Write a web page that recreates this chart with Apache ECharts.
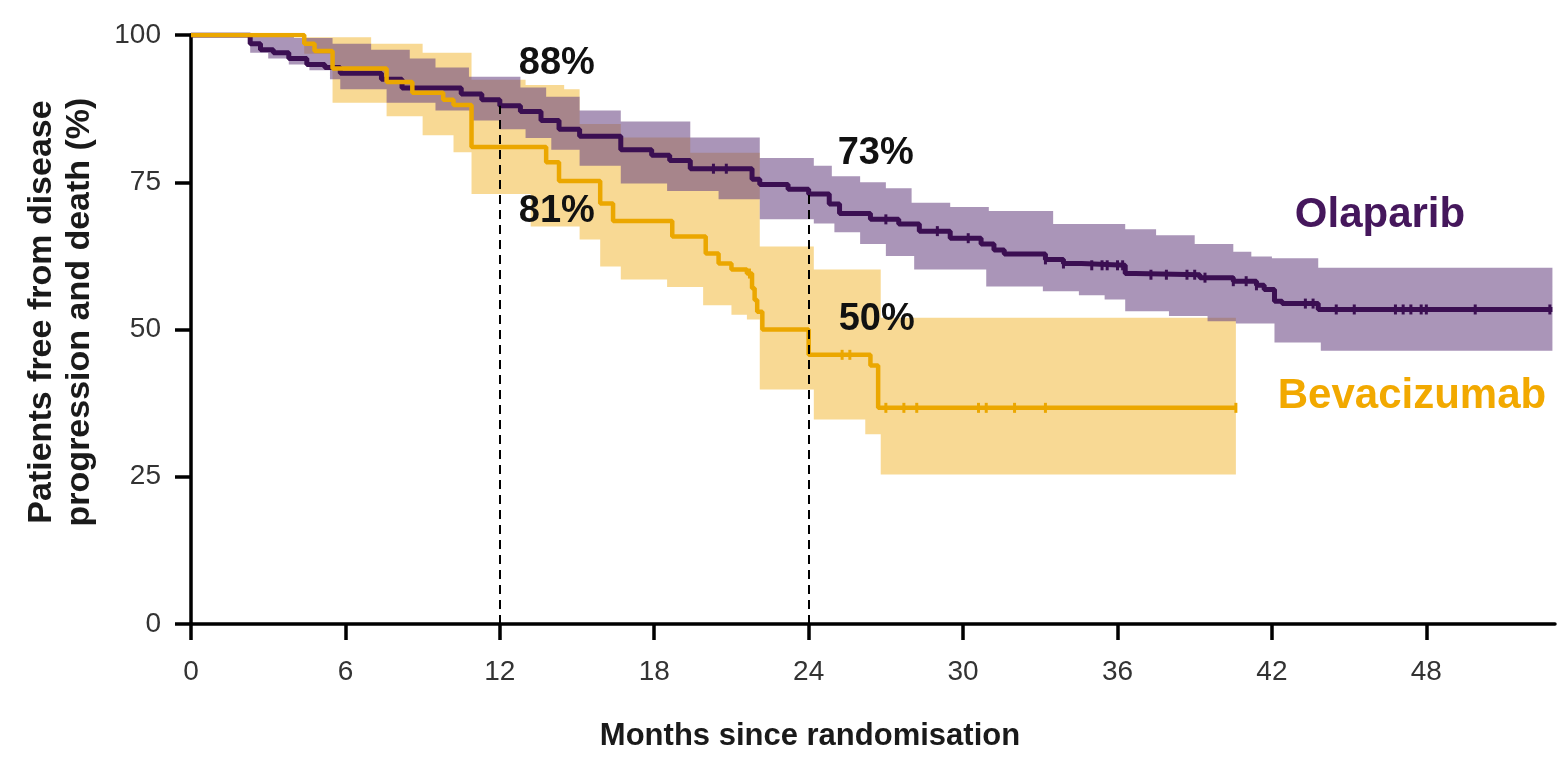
<!DOCTYPE html>
<html>
<head>
<meta charset="utf-8">
<script src="https://cdn.jsdelivr.net/npm/echarts@6/dist/echarts.min.js"></script>
<style>
  html, body { margin: 0; padding: 0; background: #ffffff; }
  #chart { width: 1560px; height: 769px; }
</style>
</head>
<body>
<div id="chart"></div>
<script>
// Axis ticks
const monthTicks = [0, 6, 12, 18, 24, 30, 36, 42, 48];
const percentTicks = [0, 25, 50, 75, 100];

// Kaplan-Meier estimates: [month, % free from progression/death], value holds until next step
const olaparib = [
  [0, 100], [2.3, 98.5], [2.7, 97.5], [3.2, 97], [3.8, 96], [4.5, 95], [5.2, 94.5], [5.8, 93.5],
  [7.4, 92.5], [8.2, 91], [10.5, 90], [11.3, 89], [12, 88], [12.8, 87], [13.6, 85.5], [14.3, 84],
  [15.1, 82.8], [16.7, 80.5], [17.9, 79.6], [18.6, 78.7], [19.4, 77.3], [21.8, 75.5], [22.1, 74.6],
  [23.2, 73.8], [24, 73], [24.8, 71.3], [25.2, 69.7], [26.4, 68.7], [27.5, 67.9], [28.3, 66.7],
  [29.5, 65.5], [30.7, 64.5], [31.2, 63.5], [31.6, 62.8], [33.2, 61.9], [33.9, 61.2], [34.6, 60.9],
  [36.3, 59.5], [36.7, 59.3], [39.2, 58.8], [40.5, 58.2], [41.4, 57.5], [41.7, 56.8], [42.1, 54.8],
  [42.4, 54.4], [43.8, 53.4], [52.9, 53.4]
];
const olaparibUpper = [
  [0, 100], [4, 99.5], [5.5, 98.5], [7, 97.5], [8.5, 96], [9.5, 94.5], [10.8, 92.9], [12.8, 91.1],
  [13.8, 89.5], [15.1, 87.2], [16.7, 85.3], [19.4, 82.6], [22.1, 79.1], [24.2, 77.8], [24.9, 76],
  [26, 75], [27, 74], [28, 71.5], [29.5, 70.8], [31, 70.1], [33.5, 67.9], [36.3, 67], [37.5, 66],
  [39, 64.5], [40.5, 63.2], [41.2, 62.4], [42, 62.1], [43.8, 60.5], [52.9, 60.5]
];
const olaparibLower = [
  [0, 100], [2.3, 97], [3, 96], [3.8, 95], [4.6, 94], [5.4, 92.5], [5.8, 90.8], [7.6, 88.5],
  [9.5, 87.2], [10.9, 85.5], [12, 84], [13, 82.5], [14, 80.5], [15.1, 77.8], [16.7, 74.8],
  [18.5, 73.5], [20.5, 72.1], [22.1, 68.7], [24.2, 68], [25, 66.5], [26, 64.5], [27, 62.5],
  [28.1, 60.2], [30.9, 57.3], [33.1, 56.5], [34.5, 55.8], [35.5, 55.1], [36.3, 53.1], [38, 52.3],
  [39.5, 51.4], [40.6, 51], [42.1, 47.8], [43.9, 46.4], [52.9, 46.4]
];
const olaparibCensored = [
  20.3, 20.8, 27.0, 29.0, 30.2, 33.2, 33.9, 35.0, 35.4, 35.6, 36.0, 36.2, 37.3, 37.9, 38.7, 39.0,
  39.4, 40.5, 41.0, 41.4, 43.3, 43.6, 44.5, 45.2, 46.8, 47.1, 47.4, 47.8, 48.0, 49.9, 52.8
];

const bevacizumab = [
  [0, 100], [4.4, 98.5], [4.8, 97.3], [5.5, 94.3], [7.6, 92], [8.6, 90.2], [9.8, 89], [10.2, 88.1],
  [10.9, 81], [13.8, 78.4], [14.3, 75.2], [15.9, 71.4], [16.4, 68.4], [18.7, 65.8], [20, 62.9],
  [20.5, 61.2], [21, 60.2], [21.6, 59.5], [21.8, 57], [21.9, 55], [22, 53], [22.2, 50], [24, 45.7],
  [26.4, 43.9], [26.7, 36.7], [40.6, 36.7]
];
const bevacizumabUpper = [
  [0, 100], [4.4, 99.6], [7, 98.5], [9, 97], [10.9, 92.4], [13, 91.5], [14.5, 90.8], [15.1, 84.9],
  [16.7, 82.6], [19.4, 80], [22.1, 64.1], [24.2, 60.2], [26.8, 52], [40.6, 52]
];
const bevacizumabLower = [
  [0, 100], [4.4, 96.8], [5.5, 88.5], [7.6, 86.2], [9, 83], [10.2, 80.1], [10.9, 73], [13.2, 67.5],
  [15.1, 65.3], [15.9, 60.7], [16.7, 58.5], [18.5, 57.2], [19.9, 54.1], [21, 52.5], [21.6, 51.7],
  [22.1, 39.8], [24.2, 34.7], [26.2, 32.2], [26.8, 25.4], [40.6, 25.4]
];
const bevacizumabCensored = [21.7, 25.3, 25.6, 27.0, 27.7, 28.2, 30.6, 30.9, 32.0, 33.2, 40.6];

// Landmark months annotated on the curves
const landmarkMonths = [12, 24];

const PURPLE = '#3b0f52';
const PURPLE_BAND = '#6c4884';
const GOLD = '#eba700';
const GOLD_BAND = '#f8d994';
const FONT = 'Liberation Sans, Arial, sans-serif';

function valueAt(curve, t) {
  let v = curve[0][1];
  for (const [x, y] of curve) {
    if (x <= t) v = y; else break;
  }
  return v;
}

function stepBand(api, upper, lower) {
  const pts = [];
  for (let i = 0; i < upper.length; i++) {
    if (i > 0) pts.push(api.coord([upper[i][0], upper[i - 1][1]]));
    pts.push(api.coord(upper[i]));
  }
  for (let i = lower.length - 1; i >= 0; i--) {
    pts.push(api.coord(lower[i]));
    if (i > 0) pts.push(api.coord([lower[i][0], lower[i - 1][1]]));
  }
  return pts;
}

function bandSeries(upper, lower, fill, opacity, z) {
  return {
    type: 'custom',
    coordinateSystem: 'cartesian2d',
    silent: true,
    z: z,
    data: [[0, 0]],
    renderItem: (params, api) => ({
      type: 'polygon',
      shape: { points: stepBand(api, upper, lower) },
      style: { fill: fill, opacity: opacity }
    })
  };
}

const TICK_FONT = { fontFamily: FONT, fontSize: 28, color: '#333333' };
const LANDMARK_LABEL = {
  show: true, position: 'inside',
  fontFamily: FONT, fontSize: 38, fontWeight: 'bold', color: '#111111',
  textBorderWidth: 0, textBorderColor: 'transparent', textShadowBlur: 0,
  align: 'center', verticalAlign: 'middle'
};

const chart = echarts.init(document.getElementById('chart'));

const option = {
  backgroundColor: '#ffffff',
  animation: false,
  grid: { left: 191, right: 5, top: 35, bottom: 145 },
  xAxis: {
    type: 'value',
    min: 0,
    max: 53,
    splitLine: { show: false },
    axisLine: { show: true, onZero: false, lineStyle: { color: '#000', width: 3.5 } },
    axisTick: { show: true, length: 16, customValues: monthTicks, lineStyle: { color: '#000', width: 3.5 } },
    axisLabel: { customValues: monthTicks, margin: 34, ...TICK_FONT }
  },
  yAxis: {
    type: 'value',
    min: 0,
    max: 100,
    interval: 25,
    splitLine: { show: false },
    axisLine: { show: true, onZero: false, lineStyle: { color: '#000', width: 3.5 } },
    axisTick: { show: true, length: 16, customValues: percentTicks, lineStyle: { color: '#000', width: 3.5 } },
    axisLabel: { customValues: percentTicks, margin: 30, ...TICK_FONT }
  },
  graphic: [
    {
      type: 'text', x: 810, y: 736,
      style: { text: 'Months since randomisation', font: 'bold 31px ' + FONT, fill: '#1a1a1a', align: 'center', verticalAlign: 'middle' }
    },
    {
      type: 'text', x: 61, y: 312, rotation: Math.PI / 2,
      style: { text: 'Patients free from disease\nprogression and death (%)', font: 'bold 34px ' + FONT, lineHeight: 38, fill: '#1a1a1a', align: 'center', verticalAlign: 'middle' }
    },
    {
      type: 'text', x: 1380, y: 215,
      style: { text: 'Olaparib', font: 'bold 42px ' + FONT, fill: '#45175c', align: 'center', verticalAlign: 'middle' }
    },
    {
      type: 'text', x: 1412, y: 396,
      style: { text: 'Bevacizumab', font: 'bold 42px ' + FONT, fill: '#f2a900', align: 'center', verticalAlign: 'middle' }
    }
  ],
  series: [
    bandSeries(bevacizumabUpper, bevacizumabLower, GOLD_BAND, 1, 1),
    bandSeries(olaparibUpper, olaparibLower, PURPLE_BAND, 0.58, 2),
    {
      name: 'Olaparib',
      type: 'line',
      step: 'end',
      data: olaparib,
      symbol: 'none',
      z: 5,
      lineStyle: { color: PURPLE, width: 5 },
      markLine: {
        silent: true,
        symbol: 'none',
        z: 8,
        label: { show: false },
        lineStyle: { color: '#000', type: [9, 6], width: 2 },
        data: landmarkMonths.map(m => [{ coord: [m, 0] }, { coord: [m, valueAt(olaparib, m)] }])
      }
    },
    {
      name: 'Olaparib censored',
      type: 'scatter',
      data: olaparibCensored.map(t => [t, valueAt(olaparib, t)]),
      symbol: 'rect',
      symbolSize: [3, 10],
      itemStyle: { color: PURPLE, opacity: 1 },
      z: 6
    },
    {
      name: 'Bevacizumab',
      type: 'line',
      step: 'end',
      data: bevacizumab,
      symbol: 'none',
      z: 7,
      lineStyle: { color: GOLD, width: 4.5 }
    },
    {
      name: 'Bevacizumab censored',
      type: 'scatter',
      data: bevacizumabCensored.map(t => [t, valueAt(bevacizumab, t)]),
      symbol: 'rect',
      symbolSize: [3, 10],
      itemStyle: { color: GOLD, opacity: 1 },
      z: 7
    },
    {
      name: 'Olaparib landmarks',
      type: 'scatter',
      symbolSize: 0,
      z: 9,
      itemStyle: { color: '#111111', opacity: 1 },
      data: landmarkMonths.map((m, i) => ({
        value: [m, valueAt(olaparib, m)],
        label: { offset: i === 0 ? [57, -42] : [67, -41] }
      })),
      label: { ...LANDMARK_LABEL, formatter: p => p.value[1] + '%' }
    },
    {
      name: 'Bevacizumab landmarks',
      type: 'scatter',
      symbolSize: 0,
      z: 9,
      itemStyle: { color: '#111111', opacity: 1 },
      data: landmarkMonths.map((m, i) => ({
        value: [m, valueAt(bevacizumab, m - 0.001)],
        label: { offset: i === 0 ? [57, 65] : [68, -10] }
      })),
      label: { ...LANDMARK_LABEL, formatter: p => p.value[1] + '%' }
    }
  ]
};

chart.setOption(option);
</script>
</body>
</html>
